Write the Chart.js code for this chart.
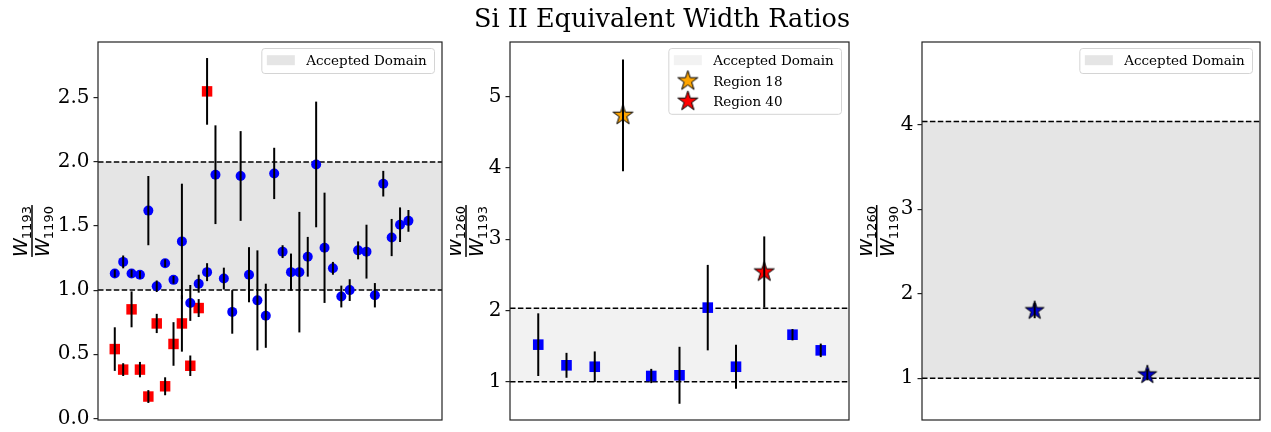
<!DOCTYPE html>
<html>
<head>
<meta charset="utf-8">
<script src="https://cdn.jsdelivr.net/npm/chart.js@4/dist/chart.umd.min.js"></script>
<style>
  html, body { margin: 0; padding: 0; background: #fff; }
  #wrap { position: relative; width: 1271px; height: 432px; overflow: hidden; }
  canvas { position: absolute; top: 0; }
  #title { position: absolute; left: 0; top: 5.5px; width: 1324px; text-align: center;
           font-family: 'DejaVu Serif'; font-size: 25.5px; line-height: 25.5px; color: #000; }
</style>
</head>
<body>
<div id="wrap">
  <canvas id="c1" width="450" height="432" style="left:0px"></canvas>
  <canvas id="c2" width="410" height="432" style="left:450px"></canvas>
  <canvas id="c3" width="411" height="432" style="left:860px"></canvas>
  <div id="title">Si II Equivalent Width Ratios</div>
</div>
<script>
// ---- panel 1 : W1193 / W1190 ----
const p1Blue    = [1.13, 1.22, 1.13, 1.12, 1.62, 1.03, 1.21, 1.08, 1.38, 0.90, 1.05, 1.14, 1.90, 1.09, 0.83, 1.89, 1.12, 0.92,
                   0.80, 1.91, 1.30, 1.14, 1.14, 1.26, 1.98, 1.33, 1.17, 0.95, 1.00, 1.31, 1.30, 0.96, 1.83, 1.41, 1.51, 1.54];
const p1BlueErr = [0.03, 0.05, 0.03, 0.03, 0.27, 0.045, 0.03, 0.03, 0.45, 0.14, 0.07, 0.07, 0.385, 0.085, 0.17, 0.35, 0.215, 0.39,
                   0.25, 0.20, 0.05, 0.145, 0.47, 0.155, 0.49, 0.43, 0.05, 0.085, 0.085, 0.07, 0.21, 0.095, 0.10, 0.145, 0.135, 0.085];
const p1Red     = [0.54, 0.38, 0.85, 0.38, 0.17, 0.74, 0.25, 0.58, 0.74, 0.41, 0.86, 2.55];
const p1RedErr  = [0.17, 0.05, 0.14, 0.06, 0.05, 0.075, 0.07, 0.17, 0.22, 0.08, 0.07, 0.26];
const p1Ticks   = [0, 0.5, 1.0, 1.5, 2.0, 2.5];
const p1Domain  = [1.0, 2.0];

// ---- panel 2 : W1260 / W1193 ----
const p2Pos     = [0, 1, 2, 4, 5, 6, 7, 9, 10];
const p2Vals    = [1.52, 1.23, 1.21, 1.08, 1.09, 2.04, 1.21, 1.66, 1.44];
const p2Err     = [0.44, 0.175, 0.215, 0.10, 0.40, 0.60, 0.31, 0.08, 0.095];
const r18 = { pos: 3, val: 4.74, err: 0.785 };
const r40 = { pos: 8, val: 2.54, err: 0.50 };
const p2Ticks   = [1, 2, 3, 4, 5];
const p2Domain  = [1.0, 2.03];

// ---- panel 3 : W1260 / W1190 ----
const p3Pos     = [0, 1];
const p3Vals    = [1.80, 1.04];
const p3Err     = [0.09, 0.065];
const p3Ticks   = [1, 2, 3, 4];
const p3Domain  = [1.0, 4.04];

function starImage(color, R) {
  const c = document.createElement('canvas');
  const s = Math.ceil(2 * R + 4);
  c.width = s; c.height = s;
  const g = c.getContext('2d');
  g.translate(s / 2, s / 2);
  g.beginPath();
  for (let i = 0; i < 10; i++) {
    const r = i % 2 === 0 ? R : R * 0.382;
    const ang = -Math.PI / 2 + i * Math.PI / 5;
    g.lineTo(r * Math.cos(ang), r * Math.sin(ang));
  }
  g.closePath();
  g.fillStyle = color; g.fill();
  g.lineWidth = 1; g.strokeStyle = '#000'; g.stroke();
  return c;
}

// shaded accepted domain + dashed limits
const bandPlugin = {
  id: 'band',
  beforeDatasetsDraw(chart, args, o) {
    const ctx = chart.ctx, a = chart.chartArea, y = chart.scales.y;
    const y1 = y.getPixelForValue(o.range[0]), y2 = y.getPixelForValue(o.range[1]);
    ctx.save();
    ctx.fillStyle = o.color;
    ctx.fillRect(a.left, y2, a.right - a.left, y1 - y2);
    ctx.strokeStyle = '#000';
    ctx.lineWidth = 1.5;
    ctx.setLineDash([5.5, 2.4]);
    [y1, y2].forEach(function (py) {
      ctx.beginPath(); ctx.moveTo(a.left, py); ctx.lineTo(a.right, py); ctx.stroke();
    });
    ctx.restore();
  }
};

// vertical error bars on top of markers
const errorPlugin = {
  id: 'errbars',
  afterDatasetsDraw(chart) {
    const ctx = chart.ctx, xs = chart.scales.x, ys = chart.scales.y;
    ctx.save();
    ctx.strokeStyle = '#000';
    ctx.lineWidth = 2;
    chart.data.datasets.forEach(function (ds) {
      if (!ds.errors) return;
      ds.data.forEach(function (p, i) {
        const px = xs.getPixelForValue(p.x);
        ctx.beginPath();
        ctx.moveTo(px, ys.getPixelForValue(p.y - ds.errors[i]));
        ctx.lineTo(px, ys.getPixelForValue(p.y + ds.errors[i]));
        ctx.stroke();
      });
    });
    ctx.restore();
  }
};

const framePlugin = {
  id: 'frame',
  afterDraw(chart) {
    const ctx = chart.ctx, a = chart.chartArea;
    ctx.save();
    ctx.strokeStyle = '#222';
    ctx.lineWidth = 1.2;
    ctx.strokeRect(a.left, a.top, a.right - a.left, a.bottom - a.top);
    ctx.restore();
  }
};

const legendPlugin = {
  id: 'boxLegend',
  afterDraw(chart, args, o) {
    if (!o.items) return;
    const ctx = chart.ctx, a = chart.chartArea;
    ctx.save();
    ctx.font = '13.5px "DejaVu Serif"';
    const textW = Math.max.apply(null, o.items.map(function (it) { return ctx.measureText(it.label).width; }));
    const rowH = 20.4;
    const w = 44 + textW + 8;
    const h = 25 + rowH * (o.items.length - 1);
    const left = a.right - 7.5 - w, top = a.top + 6.5;
    ctx.beginPath();
    ctx.roundRect(left, top, w, h, 3);
    ctx.fillStyle = 'rgba(255,255,255,0.8)';
    ctx.fill();
    ctx.strokeStyle = '#d4d4d4';
    ctx.lineWidth = 1;
    ctx.stroke();
    o.items.forEach(function (it, i) {
      const base = top + 16.7 + i * rowH;
      if (it.patch) {
        ctx.fillStyle = it.patch;
        ctx.fillRect(left + 5, base - 10, 28, 10);
      } else if (it.star) {
        const img = starImage(it.star, 10.5);
        ctx.drawImage(img, left + 19 - img.width / 2, base - 4.7 - img.height / 2);
      }
      ctx.fillStyle = '#000';
      ctx.textBaseline = 'alphabetic';
      ctx.fillText(it.label, left + 44.3, base);
    });
    ctx.restore();
  }
};

// y label as a fraction W_num / W_den, rotated
const fracPlugin = {
  id: 'frac',
  afterDraw(chart, args, o) {
    const ctx = chart.ctx, a = chart.chartArea;
    ctx.save();
    ctx.translate(o.x, (a.top + a.bottom) / 2);
    ctx.rotate(-Math.PI / 2);
    const big = 'italic 19px "DejaVu Sans"', small = '13px "DejaVu Sans"';
    function wid(sub) {
      ctx.font = big; const w1 = ctx.measureText('W').width;
      ctx.font = small; return w1 + ctx.measureText(sub).width;
    }
    function put(sub, w, base) {
      let x = -w / 2;
      ctx.font = big; ctx.fillText('W', x, base);
      x += ctx.measureText('W').width - 1;
      ctx.font = small; ctx.fillText(sub, x, base + 4);
    }
    const wn = wid(o.num), wd = wid(o.den), bw = Math.max(wn, wd);
    ctx.fillStyle = '#000';
    ctx.fillRect(-bw / 2, -0.75, bw, 1.5);
    put(o.num, wn, -5);
    put(o.den, wd, 17);
    ctx.restore();
  }
};

function yAxis(min, max, ticks, width, decimals) {
  return {
    type: 'linear', min: min, max: max,
    afterBuildTicks: function (s) { s.ticks = ticks.map(function (v) { return { value: v }; }); },
    afterFit: function (s) { s.width = width; s.paddingTop = 0; s.paddingBottom = 0; },
    border: { display: false },
    grid: { drawOnChartArea: false, drawTicks: true, tickLength: 4.5, color: '#222', lineWidth: 1.2 },
    ticks: {
      color: '#000', padding: 4,
      font: { family: 'DejaVu Serif', size: 20, lineHeight: 1 },
      callback: function (v) { return v.toFixed(decimals); }
    }
  };
}

function makeChart(id, datasets, xr, y, right, plugOpts) {
  return new Chart(document.getElementById(id).getContext('2d'), {
    type: 'scatter',
    data: { datasets: datasets },
    options: {
      responsive: false, animation: false, devicePixelRatio: 1,
      layout: { padding: { left: 0, top: 42, right: right, bottom: 12 } },
      scales: { x: { type: 'linear', display: false, min: xr[0], max: xr[1] }, y: y },
      plugins: Object.assign({ legend: { display: false }, tooltip: { enabled: false } }, plugOpts)
    },
    plugins: [bandPlugin, errorPlugin, framePlugin, legendPlugin, fracPlugin]
  });
}

// panel 1
makeChart('c1', [
  { data: p1Blue.map(function (v, i) { return { x: i, y: v }; }), errors: p1BlueErr,
    pointStyle: 'circle', pointRadius: 5, pointBackgroundColor: '#0000ff', pointBorderWidth: 0 },
  { data: p1Red.map(function (v, i) { return { x: i, y: v }; }), errors: p1RedErr,
    pointStyle: 'rect', pointRadius: 7.4, pointBackgroundColor: '#ff0000', pointBorderWidth: 0 }
], [-2, 39], yAxis(-0.013, 2.935, p1Ticks, 98, 1), 8, {
  band: { range: p1Domain, color: '#e5e5e5' },
  boxLegend: { items: [{ patch: '#e5e5e5', label: 'Accepted Domain' }] },
  frac: { x: 32, num: '1193', den: '1190' }
});

// panel 2
makeChart('c2', [
  { data: p2Vals.map(function (v, i) { return { x: p2Pos[i], y: v }; }), errors: p2Err,
    pointStyle: 'rect', pointRadius: 7.5, pointBackgroundColor: '#0000ff', pointBorderWidth: 0 },
  { data: [{ x: r18.pos, y: r18.val }], errors: [r18.err], pointStyle: starImage('orange', 10.5), pointRadius: 10 },
  { data: [{ x: r40.pos, y: r40.val }], errors: [r40.err], pointStyle: starImage('#ff0000', 10.5), pointRadius: 10 }
], [-1, 11], yAxis(0.462, 5.77, p2Ticks, 60, 0), 6, {
  band: { range: p2Domain, color: '#f2f2f2' },
  boxLegend: { items: [{ patch: '#f2f2f2', label: 'Accepted Domain' },
                       { star: 'orange', label: 'Region 18' },
                       { star: '#ff0000', label: 'Region 40' }] },
  frac: { x: 16, num: '1260', den: '1193' }
});

// panel 3
makeChart('c3', [
  { data: p3Vals.map(function (v, i) { return { x: p3Pos[i], y: v }; }), errors: p3Err,
    pointStyle: starImage('#0000cc', 9.8), pointRadius: 10 }
], [-1, 2], yAxis(0.505, 4.98, p3Ticks, 62, 0), 5, {
  band: { range: p3Domain, color: '#e5e5e5' },
  boxLegend: { items: [{ patch: '#e5e5e5', label: 'Accepted Domain' }] },
  frac: { x: 16.7, num: '1260', den: '1190' }
});
</script>
</body>
</html>
